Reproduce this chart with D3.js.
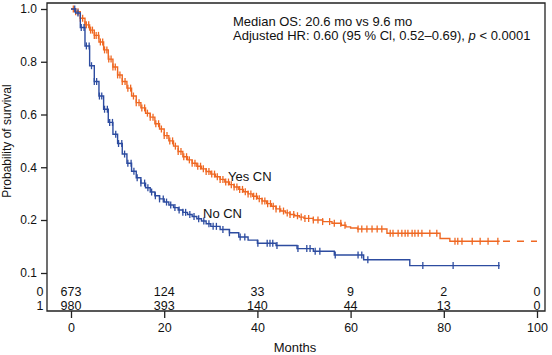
<!DOCTYPE html>
<html>
<head>
<meta charset="utf-8">
<script src="https://cdn.jsdelivr.net/npm/d3@7/dist/d3.min.js"></script>
<style>
  html, body { margin: 0; padding: 0; background: #fff; }
  svg { display: block; font-family: "Liberation Sans", Arial, Helvetica, sans-serif; }
</style>
</head>
<body>
<svg id="chart" width="552" height="355"></svg>
<script>
// ---------- data ----------
const xTicks = [0, 20, 40, 60, 80, 100];
const yTicks = [0.1, 0.2, 0.4, 0.6, 0.8, 1.0];
const yTickLabels = ["0.1", "0.2", "0.4", "0.6", "0.8", "1.0"];

const seriesNames = ["Yes CN", "No CN"];
const riskRowLabels = ["0", "1"];
const riskYes = [673, 124, 33, 9, 2, 0];
const riskNo = [980, 393, 140, 44, 13, 0];

const annotation1 = "Median OS: 20.6 mo vs 9.6 mo";
const annotation2a = "Adjusted HR: 0.60 (95 % Cl, 0.52\u20130.69), ";
const annotation2b = "p";
const annotation2c = " < 0.0001";

// Yes CN (orange) Kaplan-Meier steps
const yesTime = [0,1,2,3,4,5,6,7,8,9,10,11,12,13,14,15,16,17,18,19,20,21,22,23,24,25,26,27,28,29,30,31,32,33,34,35,36,37,38,39,40,41,42,43,44,45,46,47,48,49,50,52,54,56,58,59,60,61.5,67.8,79.2,81.3,92];
const yesSurv = [1.0,0.99,0.965,0.94,0.92,0.90,0.875,0.845,0.81,0.78,0.75,0.725,0.70,0.67,0.645,0.625,0.605,0.59,0.565,0.545,0.52,0.50,0.48,0.46,0.44,0.428,0.415,0.404,0.394,0.384,0.374,0.364,0.354,0.344,0.334,0.325,0.316,0.307,0.299,0.29,0.281,0.272,0.262,0.252,0.242,0.234,0.227,0.221,0.216,0.211,0.206,0.2,0.197,0.194,0.19,0.187,0.185,0.183,0.175,0.165,0.16,0.16];
const yesDashTime = [92.7, 100];
const yesCensor = [0.5,1,1.5,2,2.5,3,3.3,3.8,4.2,4.6,5,5.4,5.9,6.3,6.8,7.2,7.7,8.1,8.6,9,9.5,10,10.5,11,11.6,12.2,12.8,13.4,14,14.6,15.2,15.8,16.4,17,17.6,18.2,18.8,19.4,20,20.6,21.2,21.8,22.4,23,23.6,24.2,24.8,25.4,26,26.6,27.2,27.8,28.4,29,29.6,30.2,30.8,31.4,32,32.6,33.2,33.8,34.4,35,35.6,36.2,36.8,37.4,38,38.6,39.2,39.8,40.4,41,41.6,42.2,42.8,43.4,44,44.8,45.6,46.4,47,47.8,48.6,49.4,50.2,51,52,53,54,55.5,56.5,57.9,58.8,61.6,62.4,63.5,64.6,65.7,66.7,68.5,69.1,70.2,71.0,71.7,72.3,73.2,73.8,74.5,75.3,77.0,78.5,82.4,83.0,83.9,86.1,87.8,89.5,91.6];

// No CN (blue) Kaplan-Meier steps
const noTime = [0,1,2,3,4,5,6,7,8,9,10,11,12,13,14,15,16,17,18,19,20,21,22,23,24,25,26,27,28,29,30,32,34,36,38,40,44,48.5,52,56.5,62.8,72.7,92];
const noSurv = [1.0,0.985,0.93,0.86,0.785,0.725,0.67,0.62,0.57,0.525,0.49,0.45,0.415,0.385,0.36,0.34,0.322,0.306,0.292,0.28,0.268,0.257,0.247,0.238,0.229,0.221,0.213,0.205,0.198,0.193,0.188,0.182,0.176,0.168,0.162,0.156,0.152,0.146,0.141,0.134,0.125,0.114,0.114];
const noCensor = [0.8,1.5,2.2,2.8,3.3,3.9,4.4,5.0,5.5,6.1,6.6,7.2,7.8,8.3,8.9,9.6,10.2,10.9,11.5,12.2,12.9,13.5,14.2,15,15.8,16.5,17.3,18.1,19,19.8,20.5,21.4,22.3,23.2,24,24.6,25.5,26.4,27.4,28.5,29.6,30.5,31.2,32.6,34,36.3,37.3,40.1,42.1,42.7,43.3,44.2,48.7,50.6,51.3,52.4,53.4,56.7,61.6,62.4,63.7,75.5,82,91.8];

// ---------- styles ----------
const ORANGE = "#ef6823";
const BLUE = "#2d4ca0";
const AXIS = "#222";

// ---------- scales ----------
const x = d3.scaleLinear().domain([0, 100]).range([71, 537]);
const y = d3.scaleLinear().domain([0.1, 0.2, 1.0]).range([273, 220, 9]);

const svg = d3.select("#chart");
svg.append("rect").attr("width", 552).attr("height", 355).attr("fill", "#fff");

// frame
const frame = {l: 47, r: 545, t: 3, b: 311};
svg.append("path")
  .attr("d", `M${frame.l},${frame.t}H${frame.r}V${frame.b}H${frame.l}Z`)
  .attr("fill", "none").attr("stroke", AXIS).attr("stroke-width", 1.3);

// y axis
const yAxis = d3.axisLeft(y).tickValues(yTicks)
  .tickFormat((d, i) => yTickLabels[i]).tickSize(6).tickPadding(4);
const gy = svg.append("g").attr("transform", `translate(${frame.l},0)`).call(yAxis);
gy.select(".domain").remove();
gy.selectAll("line").attr("stroke", AXIS).attr("stroke-width", 1.3);
gy.selectAll("text").attr("font-size", 12).attr("fill", "#111")
  .attr("font-family", '"Liberation Sans", Arial, sans-serif');

// x axis
const xAxis = d3.axisBottom(x).tickValues(xTicks).tickSize(7).tickPadding(5);
const gx = svg.append("g").attr("transform", `translate(0,${frame.b})`).call(xAxis);
gx.select(".domain").remove();
gx.selectAll("line").attr("stroke", AXIS).attr("stroke-width", 1.3);
gx.selectAll("text").attr("font-size", 12.5).attr("fill", "#111")
  .attr("font-family", '"Liberation Sans", Arial, sans-serif');

// axis titles
svg.append("text").attr("x", 295).attr("y", 352).attr("text-anchor", "middle")
  .attr("font-size", 13).attr("fill", "#111").text("Months");
svg.append("text").attr("transform", "translate(11,141) rotate(-90)")
  .attr("text-anchor", "middle").attr("font-size", 12).attr("fill", "#111")
  .text("Probability of survival");

// number at risk
const riskRows = [riskYes, riskNo];
const riskY = [296, 309.5];
riskRows.forEach((row, r) => {
  svg.append("text").attr("x", 40).attr("y", riskY[r]).attr("text-anchor", "middle")
    .attr("font-size", 12.5).attr("fill", "#111").text(riskRowLabels[r]);
  svg.selectAll(null).data(row).enter().append("text")
    .attr("x", (d, i) => x(xTicks[i])).attr("y", riskY[r])
    .attr("text-anchor", "middle").attr("font-size", 12.5).attr("fill", "#111")
    .text(d => d);
});

// KM curves
const line = d3.line().x(d => x(d[0])).y(d => y(d[1])).curve(d3.curveStepAfter);
function stepValue(times, surv, t) {
  let v = surv[0];
  for (let i = 0; i < times.length; i++) { if (times[i] <= t) v = surv[i]; }
  return v;
}
function drawCurve(times, surv, censor, color) {
  const pts = times.map((t, i) => [t, surv[i]]);
  svg.append("path").attr("d", line(pts)).attr("fill", "none")
    .attr("stroke", color).attr("stroke-width", 1.4);
  svg.selectAll(null).data(censor).enter().append("line")
    .attr("x1", d => x(d)).attr("x2", d => x(d))
    .attr("y1", d => y(stepValue(times, surv, d)) - 3.5)
    .attr("y2", d => y(stepValue(times, surv, d)) + 3.5)
    .attr("stroke", color).attr("stroke-width", 1.3);
}
drawCurve(yesTime, yesSurv, yesCensor, ORANGE);
drawCurve(noTime, noSurv, noCensor, BLUE);

// dashed tail of Yes CN
const lastYes = yesSurv[yesSurv.length - 1];
svg.append("path").attr("d", line(yesDashTime.map(t => [t, lastYes])))
  .attr("fill", "none").attr("stroke", ORANGE).attr("stroke-width", 1.4)
  .attr("stroke-dasharray", "7,7");

// curve labels
svg.append("text").attr("x", 228).attr("y", 181).attr("font-size", 13).attr("fill", "#111").text(seriesNames[0]);
svg.append("text").attr("x", 203).attr("y", 218).attr("font-size", 13).attr("fill", "#111").text(seriesNames[1]);

// annotation
svg.append("text").attr("x", 233).attr("y", 26).attr("font-size", 13).attr("fill", "#111").text(annotation1);
const a2 = svg.append("text").attr("x", 233).attr("y", 39.5).attr("font-size", 13).attr("fill", "#111");
a2.append("tspan").text(annotation2a);
a2.append("tspan").attr("font-style", "italic").text(annotation2b);
a2.append("tspan").text(annotation2c);
</script>
</body>
</html>
